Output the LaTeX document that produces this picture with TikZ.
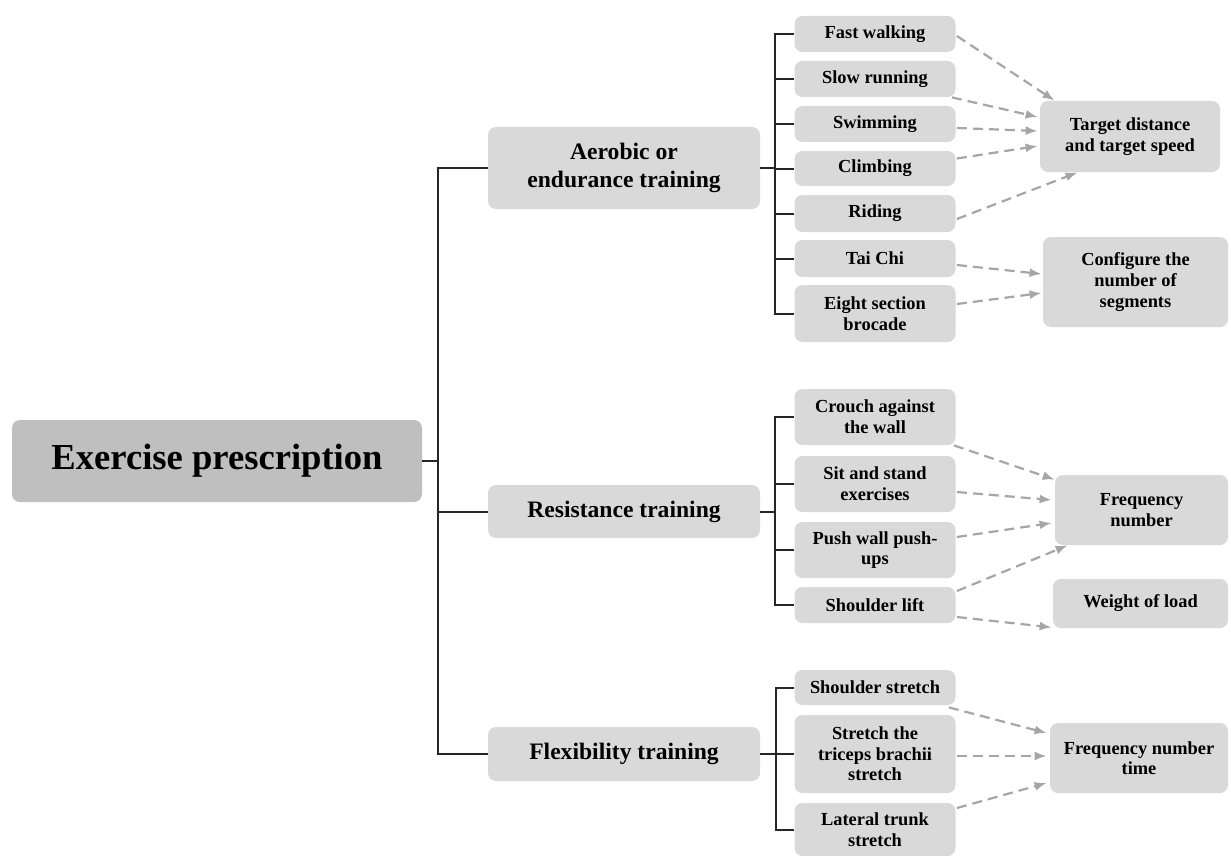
\documentclass[tikz,border=0pt]{standalone}
\usepackage{fontspec}
\setmainfont{Liberation Serif}
\usetikzlibrary{arrows.meta}
\definecolor{maingray}{HTML}{BFBFBF}
\definecolor{boxgray}{HTML}{D9D9D9}
\definecolor{arrgray}{HTML}{A6A6A6}
\definecolor{linecol}{HTML}{262626}
\begin{document}
\begin{tikzpicture}[x=0.5pt,y=-0.5pt,
  box/.style={rectangle, rounded corners=4pt, fill=boxgray, inner sep=0pt, align=center,
    font=\bfseries\fontsize{9.2}{10.3}\selectfont},
  leaf/.style={box, minimum width=80.5pt},
  midbox/.style={box, minimum width=136pt, font=\bfseries\fontsize{11.8}{14}\selectfont},
  mainbox/.style={box, fill=maingray, font=\bfseries\fontsize{18.3}{22}\selectfont},
  tree/.style={draw=linecol, line width=1pt},
  arr/.style={draw=arrgray, line width=1.1pt, dash pattern=on 5pt off 3pt,
    -{Latex[length=6pt,width=4.5pt]}, shorten >=0pt}
]
\useasboundingbox (0,0) rectangle (1231,856);

% main
\node[mainbox, minimum width=205pt, minimum height=41pt] (main) at (217,461) {Exercise prescription};

% level 2
\node[midbox, minimum height=41pt] (aer) at (624,168) {Aerobic or\\endurance training};
\node[midbox, minimum height=26.5pt] (res) at (624,511.5) {Resistance training};
\node[midbox, minimum height=27pt] (flex) at (624,754) {Flexibility training};

% aerobic leaves
\node[leaf, minimum height=18pt] (fast) at (875,34) {Fast walking};
\node[leaf, minimum height=18pt] (slow) at (875,79) {Slow running};
\node[leaf, minimum height=18pt] (swim) at (875,124) {Swimming};
\node[leaf, minimum height=17.5pt] (climb) at (875,168.5) {Climbing};
\node[leaf, minimum height=18.5pt] (ride) at (875,213.5) {Riding};
\node[leaf, minimum height=18.5pt] (tai) at (875,258.5) {Tai Chi};
\node[leaf, minimum height=28.5pt] (eight) at (875,313.5) {Eight section\\brocade};

% resistance leaves
\node[leaf, minimum height=28pt] (crouch) at (875,417) {Crouch against\\the wall};
\node[leaf, minimum height=28pt] (sit) at (875,484) {Sit and stand\\exercises};
\node[leaf, minimum height=28pt] (push) at (875,550) {Push wall push-\\ups};
\node[leaf, minimum height=18pt] (slift) at (875,605) {Shoulder lift};

% flexibility leaves
\node[leaf, minimum height=17.5pt] (sstr) at (875,687.5) {Shoulder stretch};
\node[leaf, minimum height=39pt] (tri) at (875,754) {Stretch the\\triceps brachii\\stretch};
\node[leaf, minimum height=26.5pt] (lat) at (875,829.5) {Lateral trunk\\stretch};

% targets
\node[box, minimum width=90pt, minimum height=35.5pt] (tgt) at (1130,136.5) {Target distance\\and target speed};
\node[box, minimum width=92.5pt, minimum height=45pt] (cfg) at (1135.5,282) {Configure the\\number of\\segments};
\node[box, minimum width=86.5pt, minimum height=35pt] (freq) at (1141.5,510) {Frequency\\number};
\node[box, minimum width=87.5pt, minimum height=24.5pt] (wgt) at (1140.5,603.5) {Weight of load};
\node[box, minimum width=89pt, minimum height=35pt] (ft) at (1139,758) {Frequency number\\time};

% tree connectors
\draw[tree] (main.east) -- ++(16,0);
\draw[tree] (aer.west) -- ++(-50,0) |- (flex.west);
\draw[tree] (res.west) -- ++(-50,0);

\draw[tree] (aer.east) -- ++(15,0);
\draw[tree] (fast.west) -- ++(-19,0) |- (eight.west);
\foreach \n in {slow,swim,climb,ride,tai} \draw[tree] (\n.west) -- ++(-19,0);

\draw[tree] (res.east) -- ++(15,0);
\draw[tree] (crouch.west) -- ++(-19,0) |- (slift.west);
\foreach \n in {sit,push} \draw[tree] (\n.west) -- ++(-19,0);

\draw[tree] (flex.east) -- ++(16,0);
\draw[tree] (sstr.west) -- ++(-18,0) |- (lat.west);
\draw[tree] (tri.west) -- ++(-18,0);

% dashed arrows
\draw[arr] ([xshift=0.5pt,yshift=-1pt]fast.east) -- ([xshift=7.5pt]tgt.north west);
\draw[arr] ([xshift=-2pt]slow.south east) -- ([xshift=-1pt,yshift=9.75pt]tgt.west);
\draw[arr] ([xshift=0.5pt,yshift=-2pt]swim.east) -- ([xshift=-1pt,yshift=2.75pt]tgt.west);
\draw[arr] ([xshift=0.5pt,yshift=5pt]climb.east) -- ([xshift=-1pt,yshift=-4.75pt]tgt.west);
\draw[arr] ([xshift=0.5pt,yshift=-2.75pt]ride.east) -- ([xshift=19pt]tgt.south west);
\draw[arr] ([xshift=0.5pt,yshift=-3.25pt]tai.east) -- ([xshift=-0.5pt,yshift=4pt]cfg.west);
\draw[arr] ([xshift=0.5pt,yshift=4.75pt]eight.east) -- ([xshift=-0.5pt,yshift=-5.5pt]cfg.west);

\draw[arr] ([xshift=-1pt]crouch.south east) -- ([yshift=-2.5pt]freq.north west);
\draw[arr] ([xshift=0.5pt,yshift=-4pt]sit.east) -- ([xshift=-1.5pt,yshift=5pt]freq.west);
\draw[arr] ([xshift=0.5pt,yshift=6.5pt]push.east) -- ([xshift=-1.5pt,yshift=-6.5pt]freq.west);
\draw[arr] ([xshift=0.5pt,yshift=7pt]slift.east) -- ([xshift=6.5pt]freq.south west);
\draw[arr] ([xshift=0.5pt,yshift=-6pt]slift.east) -- ([xshift=-0.5pt,yshift=0.5pt]wgt.south west);

\draw[arr] ([xshift=-3.5pt,yshift=-1pt]sstr.south east) -- ([xshift=-1.5pt,yshift=12.5pt]ft.west);
\draw[arr] ([xshift=0.5pt,yshift=-1pt]tri.east) -- ([xshift=-1.5pt,yshift=1pt]ft.west);
\draw[arr] ([xshift=0.5pt,yshift=10.75pt]lat.east) -- ([xshift=-1.5pt,yshift=-12.5pt]ft.west);
\end{tikzpicture}
\end{document}
